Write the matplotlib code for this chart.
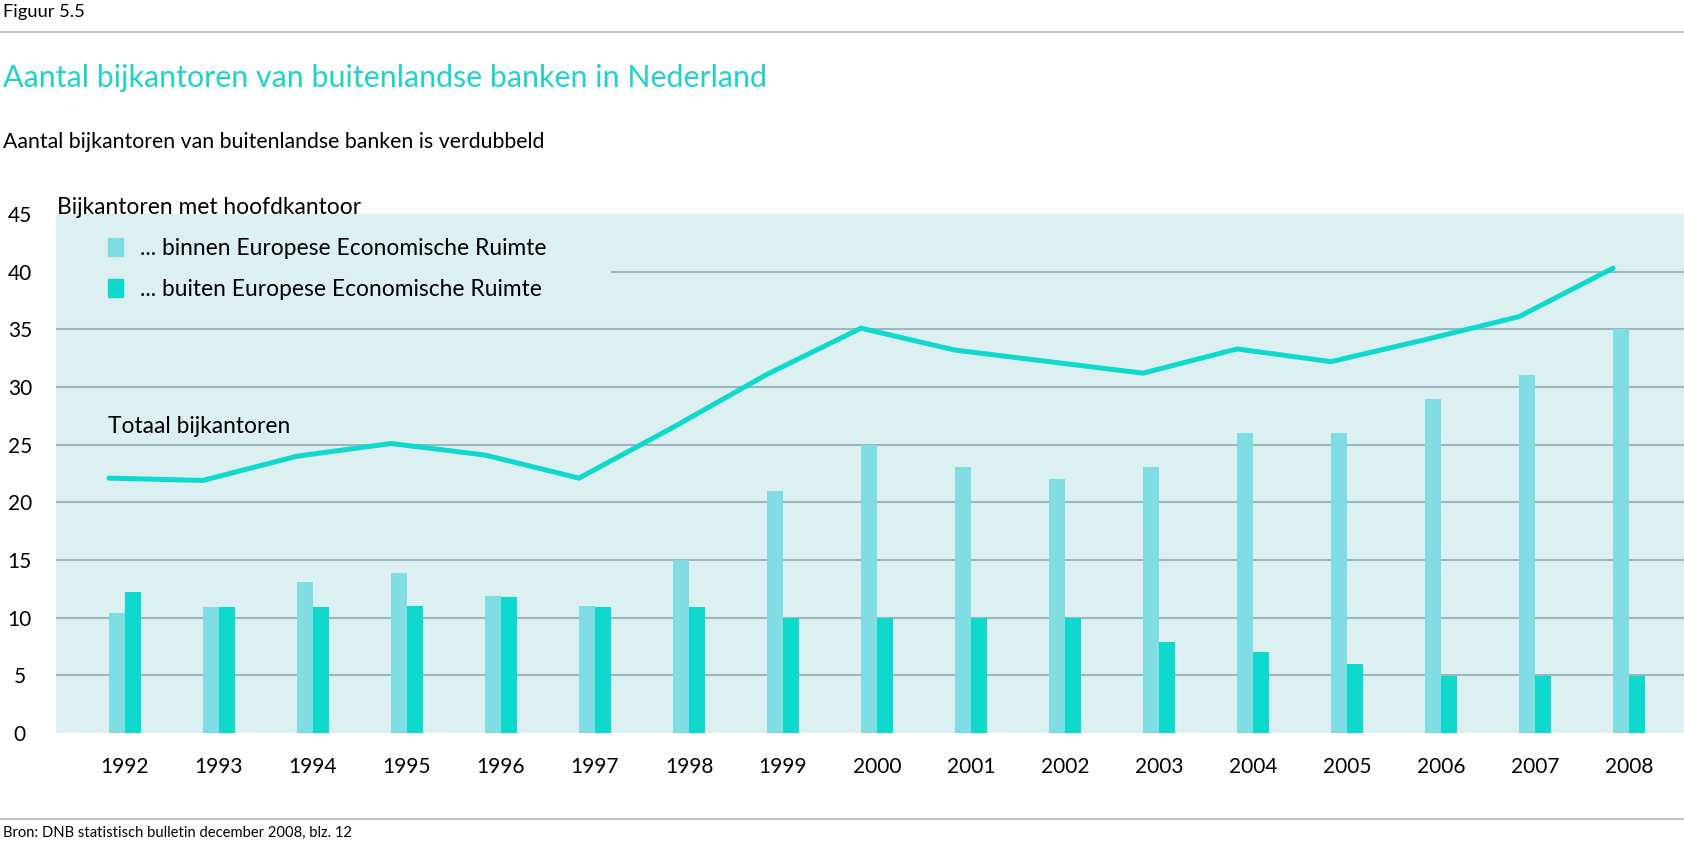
import matplotlib
matplotlib.use("Agg")
import matplotlib.pyplot as plt
from matplotlib.patches import Patch

# data (Figuur 5.5, DNB)
years = ["1992", "1993", "1994", "1995", "1996", "1997", "1998", "1999", "2000",
         "2001", "2002", "2003", "2004", "2005", "2006", "2007", "2008"]
binnen_eer = [10.4, 10.9, 13.1, 13.9, 11.9, 11.0, 15.0, 21.0, 25.0,
              23.1, 22.0, 23.1, 26.0, 26.0, 29.0, 31.0, 35.0]
buiten_eer = [12.2, 10.9, 10.9, 11.0, 11.8, 10.9, 10.9, 10.0, 10.0,
              10.0, 10.0, 7.9, 7.0, 6.0, 4.9, 4.9, 4.9]
totaal = [22.1, 21.9, 24.0, 25.1, 24.1, 22.1, 26.5, 31.1, 35.1,
          33.2, 32.2, 31.2, 33.3, 32.2, 34.1, 36.1, 40.3]
y_ticks = [0, 5, 10, 15, 20, 25, 30, 35, 40, 45]

LIGHT = "#80dde4"
DARK = "#0fd9cc"
PANEL = "#dcf0f2"
GRID = "#9bb8c0"
TITLE = "#1ed3cb"

plt.rcParams["font.family"] = ["Lato", "DejaVu Sans"]

W, H = 1684, 847
fig = plt.figure(figsize=(W / 100, H / 100), dpi=100)


def fx(px):
    return px / W


def fy(py):
    return 1 - py / H


ax = fig.add_axes([fx(56), fy(733), fx(W - 56), fy(214) - fy(733)])
ax.set_facecolor(PANEL)
for s in ax.spines.values():
    s.set_visible(False)

x = list(range(len(years)))
w = 0.175
ax.bar([i - w / 2 for i in x], binnen_eer, width=w, color=LIGHT, zorder=2)
ax.bar([i + w / 2 for i in x], buiten_eer, width=w, color=DARK, zorder=2)
ax.plot([i - 0.17 for i in x], totaal, color=DARK, lw=3.6,
        solid_capstyle="round", solid_joinstyle="round", zorder=3)

ax.set_xlim(-0.734, 16.585)
ax.set_ylim(0, 45)

# gridlines; the one at 40 is interrupted by the legend
for t in y_ticks[1:-1]:
    xmin = 0.3415 if t == 40 else 0
    ax.axhline(t, xmin=xmin, color=GRID, lw=1.5, zorder=1)

ax.set_yticks(y_ticks)
ax.set_yticklabels([str(t) for t in y_ticks], ha="center")
ax.tick_params(axis="y", length=0, pad=26, labelsize=15)
ax.set_xticks(x)
ax.set_xticklabels(years)
ax.tick_params(axis="x", length=0, pad=17, labelsize=15)

handles = [Patch(color=LIGHT), Patch(color=DARK)]
ax.legend(handles, ["... binnen Europese Economische Ruimte",
                    "... buiten Europese Economische Ruimte"],
          loc="upper left", bbox_to_anchor=(fx(108), fy(238)),
          bbox_transform=fig.transFigure, frameon=False, fontsize=16.4,
          handlelength=0.68, handleheight=0.8, handletextpad=0.72,
          labelspacing=0.88, borderpad=0, borderaxespad=0)

fig.text(fx(57), fy(214), "Bijkantoren met hoofdkantoor", fontsize=16.4, va="baseline")
fig.text(fx(108), fy(433), "Totaal bijkantoren", fontsize=16.4, va="baseline")

fig.text(fx(3), fy(17), "Figuur 5.5", fontsize=13.2, va="baseline")
fig.add_artist(plt.Line2D([0, 1], [fy(32), fy(32)], color="#c4c4c4", lw=1.5))
fig.text(fx(3), fy(87), "Aantal bijkantoren van buitenlandse banken in Nederland",
         fontsize=21.9, color=TITLE, va="baseline")
fig.text(fx(3), fy(148), "Aantal bijkantoren van buitenlandse banken is verdubbeld",
         fontsize=15.3, va="baseline")
fig.add_artist(plt.Line2D([0, 1], [fy(819), fy(819)], color="#c4c4c4", lw=1.5))
fig.text(fx(3), fy(837), "Bron: DNB statistisch bulletin december 2008, blz. 12",
         fontsize=10.6, va="baseline")

fig.savefig("out.png", dpi=100)
